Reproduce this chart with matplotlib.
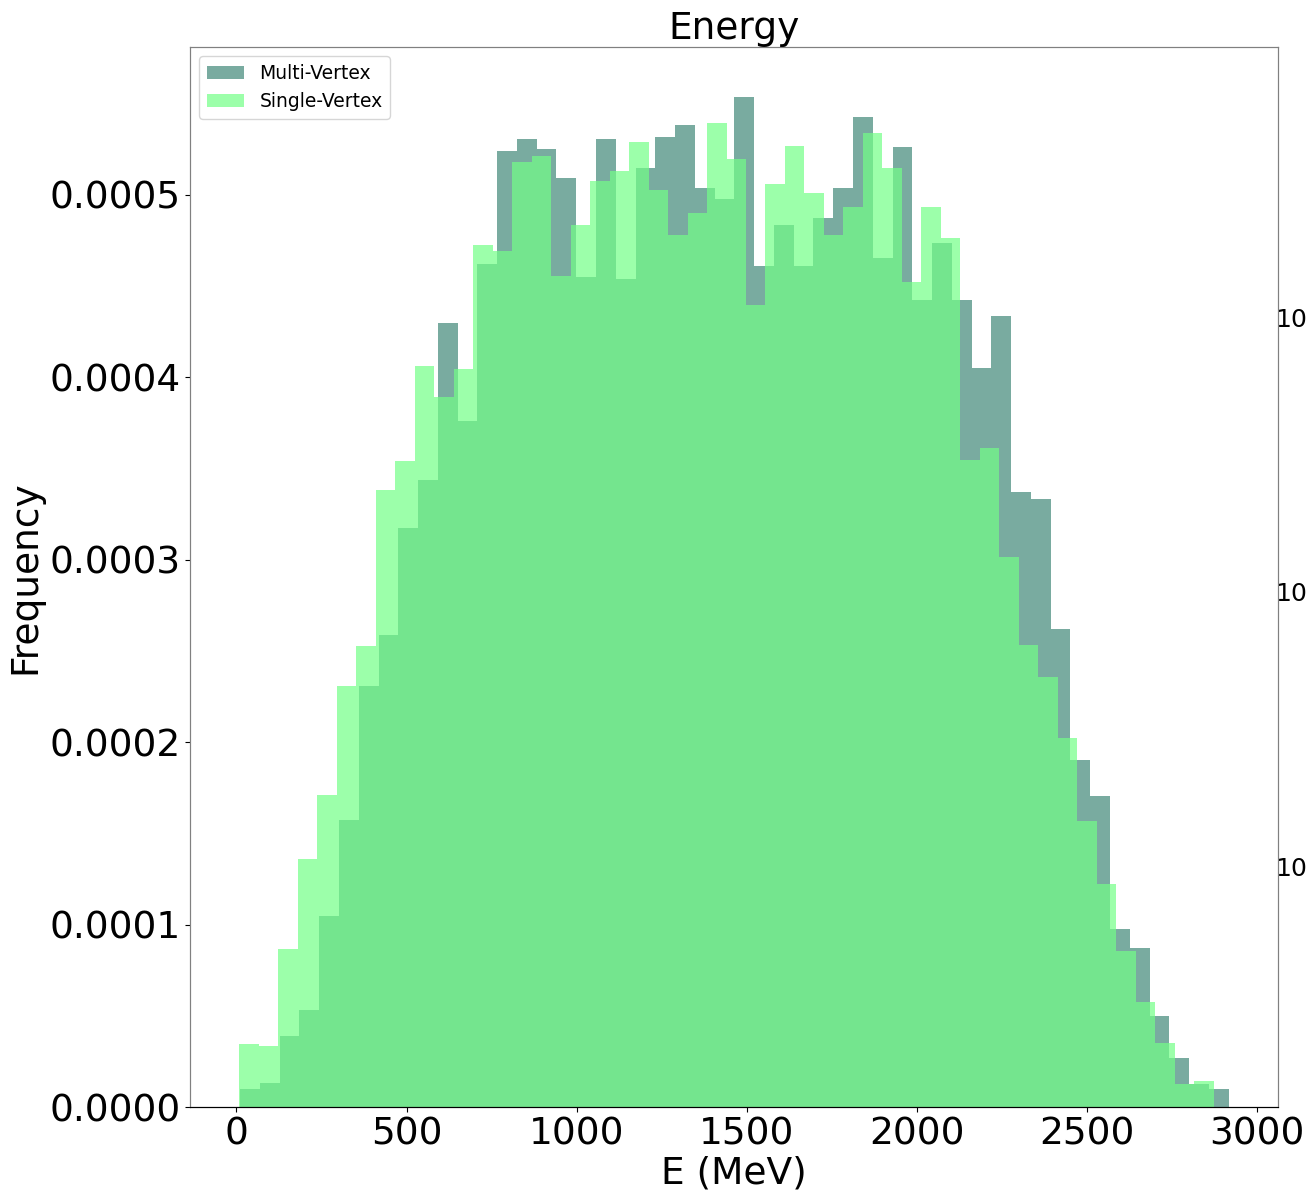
import numpy as np
import matplotlib
matplotlib.use("Agg")
import matplotlib.pyplot as plt

# bin range of each histogram (MeV), 50 bins each
multi_range = (10.9, 2916.2)
single_range = (8.8, 2872.0)
n_bins = 50

# normalised frequency per bin
multi_freq = [
    1.00e-5, 1.31e-5, 3.87e-5, 5.30e-5, 1.048e-4, 1.574e-4, 2.305e-4, 2.589e-4, 3.175e-4, 3.434e-4,
    4.295e-4, 3.758e-4, 4.619e-4, 5.237e-4, 5.308e-4, 5.250e-4, 5.089e-4, 4.549e-4, 5.308e-4, 4.536e-4,
    5.149e-4, 5.319e-4, 5.381e-4, 5.036e-4, 4.975e-4, 5.533e-4, 4.609e-4, 4.834e-4, 4.609e-4, 4.875e-4,
    5.036e-4, 5.424e-4, 4.651e-4, 5.259e-4, 4.421e-4, 4.734e-4, 4.421e-4, 4.052e-4, 4.336e-4, 3.372e-4,
    3.332e-4, 2.618e-4, 1.902e-4, 1.703e-4, 9.73e-5, 8.72e-5, 4.97e-5, 2.70e-5, 1.27e-5, 9.8e-6,
]
single_freq = [
    3.47e-5, 3.32e-5, 8.68e-5, 1.360e-4, 1.710e-4, 2.305e-4, 2.529e-4, 3.383e-4, 3.540e-4, 4.060e-4,
    3.890e-4, 4.046e-4, 4.727e-4, 4.692e-4, 5.180e-4, 5.213e-4, 4.554e-4, 4.833e-4, 5.077e-4, 5.131e-4,
    5.287e-4, 5.025e-4, 4.782e-4, 4.898e-4, 5.392e-4, 5.195e-4, 4.395e-4, 5.058e-4, 5.266e-4, 5.007e-4,
    4.782e-4, 4.935e-4, 5.338e-4, 5.144e-4, 4.521e-4, 4.934e-4, 4.761e-4, 3.544e-4, 3.613e-4, 3.015e-4,
    2.530e-4, 2.357e-4, 2.024e-4, 1.569e-4, 1.223e-4, 8.55e-5, 5.75e-5, 3.50e-5, 1.27e-5, 1.40e-5,
]

MULTI_COLOR = '#4c8f80'
SINGLE_COLOR = '#73ff87'

multi_edges = np.linspace(multi_range[0], multi_range[1], n_bins + 1)
single_edges = np.linspace(single_range[0], single_range[1], n_bins + 1)

fig = plt.figure(figsize=(13.06, 11.96), dpi=100)
ax = fig.add_axes([0.1455, 0.0744, 0.8331, 0.8863])

ax.hist(multi_edges[:-1], bins=multi_edges, weights=multi_freq,
        color=MULTI_COLOR, alpha=0.75, label='Multi-Vertex')
ax.hist(single_edges[:-1], bins=single_edges, weights=single_freq,
        color=SINGLE_COLOR, alpha=0.7, label='Single-Vertex')

ax.set_title('Energy', fontsize=27)
ax.set_xlabel('E (MeV)', fontsize=27, labelpad=2)
ax.set_ylabel('Frequency', fontsize=27)
ax.set_xticks([0, 500, 1000, 1500, 2000, 2500, 3000])
ax.tick_params(axis='both', labelsize=27)
ax.legend(loc='upper left', fontsize=13.5)

for side in ['left', 'top', 'right']:
    ax.spines[side].set_color('#808080')

# log-scaled twin axis on the right (labels run off the figure edge, as in the original)
ax2 = ax.twinx()
ax2.set_yscale('log')
ax2.set_ylim(10 ** -0.8796, 10 ** 2.989)
ax2.set_yticks([1, 10, 100])
ax2.tick_params(axis='y', which='both', length=0, pad=-2, labelsize=18)
for side in ['left', 'top', 'right']:
    ax2.spines[side].set_color('#808080')

plt.savefig('out.png', dpi=100)
